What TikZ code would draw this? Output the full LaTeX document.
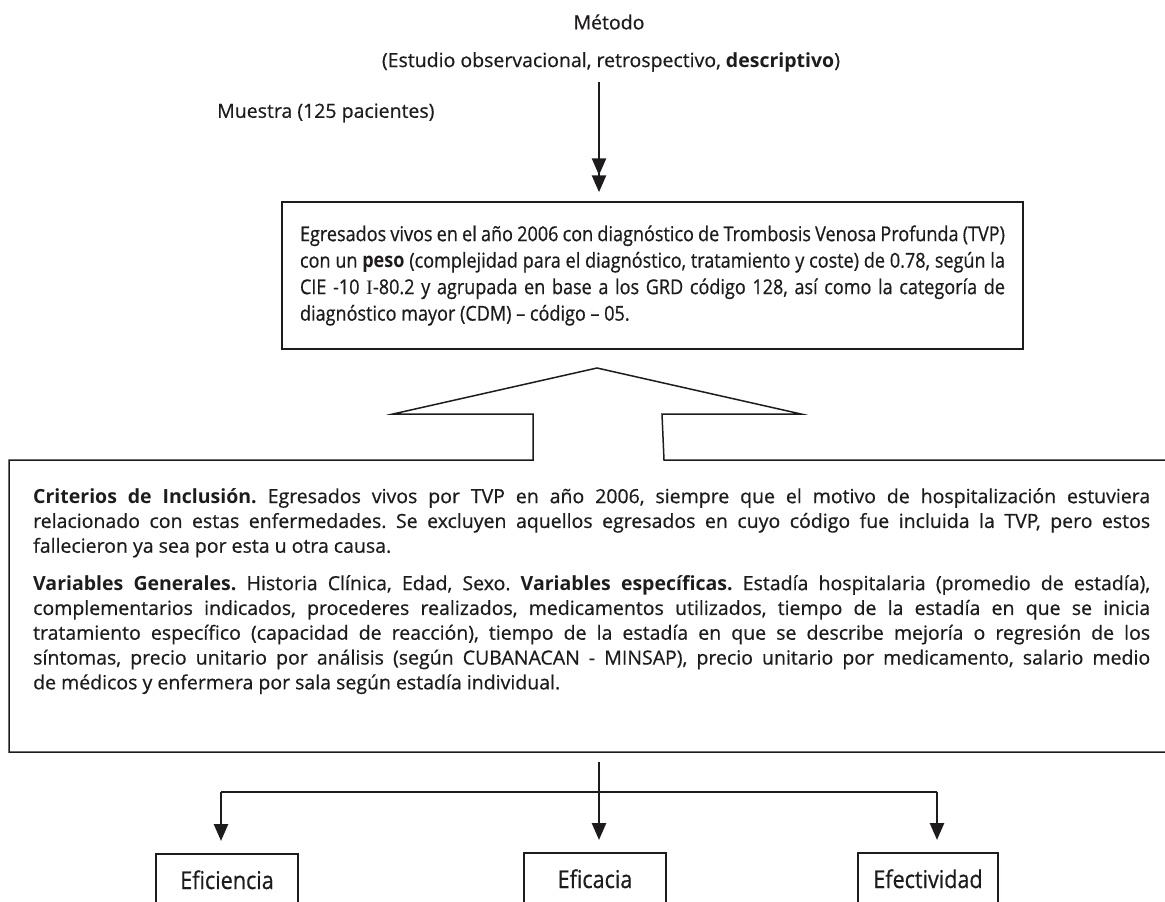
\documentclass[tikz,border=0pt]{standalone}
\usepackage{fontspec}
\setmainfont{Open Sans}[UprightFeatures={FakeBold=0.6}]
\newfontfamily\condfont{Open Sans}[FakeStretch=0.88, UprightFeatures={FakeBold=0.6}]
\newfontfamily\serifI{Liberation Serif}
\usetikzlibrary{arrows.meta}
\definecolor{ink}{RGB}{30,27,28}
\frenchspacing
\begin{document}
\begin{tikzpicture}[x=1pt,y=-1pt,
  box/.style={draw=ink, line width=1.5pt},
  conn/.style={draw=ink, line width=2.6pt},
  arr/.style={conn, -{Triangle[width=14pt,length=17pt]}},
  dblarr/.style={conn, -{Triangle[width=14pt,length=17pt]Triangle[width=14pt,length=17pt]}},
  lbl/.style={text=ink, font=\fontsize{19.5}{22}\selectfont, inner sep=0pt},
  para/.style={text=ink, anchor=north west, text width=1117pt, align=justify, inner sep=0pt, font=\fontsize{19.5}{24.8}\selectfont},
  small/.style={box, text=ink, minimum width=142pt, minimum height=52pt, anchor=north, inner sep=0pt, font=\condfont\fontsize{24.5}{28}\selectfont}
]
\useasboundingbox (0,0) rectangle (1165,902);

\node[lbl] (metodo) at (609,22) {Método};
\node[lbl] (estudio) at (611,62) {(Estudio observacional, retrospectivo, \textbf{descriptivo})};
\node[lbl, anchor=west] (muestra) at (217,113) {Muestra (125 pacientes)};

\node[box, text=ink, font=\condfont\fontsize{20.5}{26.5}\selectfont, text width=705pt, align=justify,
      inner xsep=18pt, inner ysep=0pt, minimum height=147pt] (box1) at (652.5,275.5)
 {Egresados vivos en el año 2006 con diagnóstico de Trombosis Venosa Profunda (TVP)\linebreak
  con un \textbf{peso} (complejidad para el diagnóstico, tratamiento y coste) de 0.78, según la\linebreak
  CIE -10 {\serifI I}-80.2 y agrupada en base a los GRD código 128, así como la categoría de\linebreak
  diagnóstico mayor (CDM) – código – 05.};

\coordinate (a0) at (599,82);
\draw[dblarr, shorten >=9pt] (a0) -- (a0 |- box1.north);

% big arrow shape and open box
\draw[box, line join=miter] (1170,460) -- (664,460) -- (662,414) -- (801,414) -- (597,368) -- (393,414)
   -- (533,414) -- (533,460) -- (9,460) -- (9,752) -- (1170,752);

\node[para] (crit) at (33,488)
 {\textbf{Criterios de Inclusión.} Egresados vivos por TVP en año 2006, siempre que el motivo de hospitalización estuviera\linebreak
  relacionado con estas enfermedades. Se excluyen aquellos egresados en cuyo código fue incluida la TVP, pero estos\linebreak
  fallecieron ya sea por esta u otra causa.};

\node[para] (vars) at (33,575)
 {\textbf{Variables Generales.} Historia Clínica, Edad, Sexo. \textbf{Variables específicas.} Estadía hospitalaria (promedio de estadía),\linebreak
  complementarios indicados, procederes realizados, medicamentos utilizados, tiempo de la estadía en que se inicia\linebreak
  tratamiento específico (capacidad de reacción), tiempo de la estadía en que se describe mejoría o regresión de los\linebreak
  síntomas, precio unitario por análisis (según CUBANACAN - MINSAP), precio unitario por medicamento, salario medio\linebreak
  de médicos y enfermera por sala según estadía individual.};

\node[small] (effic) at (227,853) {Eficiencia};
\node[small] (eficac) at (595,852) {Eficacia};
\node[small, minimum width=140pt] (efect) at (928,852) {Efectividad};

\coordinate (b0) at (599,762);
\coordinate (hl) at (221,792);
\coordinate (hr) at (937,792);
\draw[conn] (hl) -- (hr);
\draw[arr, shorten >=12pt] (b0) -- (b0 |- eficac.north);
\draw[arr, shorten >=12pt] (hl) -- (hl |- effic.north);
\draw[arr, shorten >=12pt] (hr) -- (hr |- efect.north);
\end{tikzpicture}
\end{document}
